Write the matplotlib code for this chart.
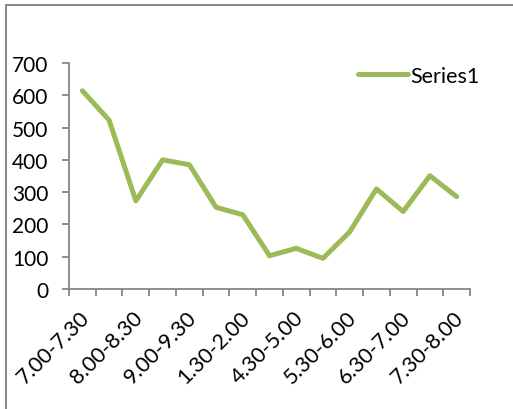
import matplotlib
matplotlib.use("Agg")
import matplotlib.pyplot as plt
import matplotlib.transforms as mtransforms
from matplotlib.lines import Line2D
import numpy as np

plt.rcParams['font.family'] = ['Lato', 'DejaVu Sans']

# time slots, only every other one gets a label on the axis
categories = ['7.00-7.30', '7.30-8.00', '8.00-8.30', '8.30-9.00', '9.00-9.30',
              '12.30-1.00', '1.30-2.00', '3.30-4.00', '4.30-5.00', '5.00-5.30',
              '5.30-6.00', '6.00-6.30', '6.30-7.00', '7.00-7.30', '7.30-8.00']
series1 = [614, 523, 273, 400, 385, 253, 230, 103, 126, 95, 177, 310, 240, 351, 286]
yticks = [0, 100, 200, 300, 400, 500, 600, 700]

green = '#9BBB59'
grey = '#868686'

fig = plt.figure(figsize=(5.13, 4.10), dpi=100)
ax = fig.add_axes([69 / 513, 1 - 290 / 410, 401 / 513, 226 / 410])

x = np.arange(len(categories))
line, = ax.plot(x, series1, color=green, lw=3.6, solid_capstyle='round',
                solid_joinstyle='round', label='Series1')

ax.set_xlim(-0.5, len(categories) - 0.5)
ax.set_ylim(0, 700)
ax.set_yticks(yticks)
ax.set_yticklabels([str(v) for v in yticks])

# tick marks sit on the category boundaries, labels on every second category
ax.set_xticks(np.arange(-0.5, len(categories), 1.0))
ax.set_xticklabels([])
ax.set_xticks(x[::2], minor=True)
ax.set_xticklabels(categories[::2], minor=True, rotation=45, ha='right',
                   va='top', rotation_mode='anchor')
ax.tick_params(axis='x', which='major', length=5, width=1.3, color=grey)
ax.tick_params(axis='x', which='minor', length=0, pad=13, labelsize=15.5)
ax.tick_params(axis='y', length=5, width=1.3, color=grey, labelsize=15, pad=10)

# nudge the rotated labels a little to the left
shift = mtransforms.ScaledTranslation(-3 / 100, 0, fig.dpi_scale_trans)
for lbl in ax.get_xticklabels(minor=True):
    lbl.set_transform(lbl.get_transform() + shift)

for side in ['top', 'right']:
    ax.spines[side].set_visible(False)
for side in ['left', 'bottom']:
    ax.spines[side].set_color(grey)
    ax.spines[side].set_linewidth(1.3)

ax.legend(handles=[line], loc='center left', bbox_to_anchor=(358 / 513, 1 - 77 / 410),
          bbox_transform=fig.transFigure, frameon=False, fontsize=15.5,
          handlelength=2.3, handletextpad=0.15, borderpad=0, borderaxespad=0)

# chart area border
fig.add_artist(Line2D([6 / 513, 6 / 513], [0, 1 - 6 / 410], transform=fig.transFigure,
                      color=grey, lw=1.4))
fig.add_artist(Line2D([6 / 513, 1], [1 - 6 / 410, 1 - 6 / 410], transform=fig.transFigure,
                      color=grey, lw=1.4))

fig.savefig('out.png', dpi=100)
